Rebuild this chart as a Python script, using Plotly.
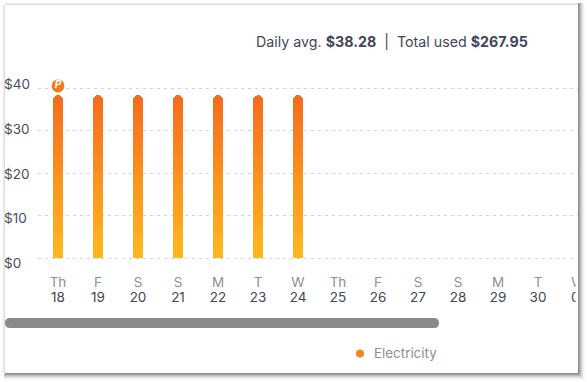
import plotly.graph_objects as go

weekdays = ["Th", "F", "S", "S", "M", "T", "W", "Th", "F", "S", "S", "M", "T", "W"]
dates = ["18", "19", "20", "21", "22", "23", "24", "25", "26", "27", "28", "29", "30", "01"]
values = [38.28, 38.28, 38.28, 38.28, 38.28, 38.28, 38.28, None, None, None, None, None, None, None]
y_ticks = [0, 10, 20, 30, 40]
y_labels = ["$0", "$10", "$20", "$30", "$40"]
series_name = "Electricity"
daily_avg = "$38.28"
total_used = "$267.95"

W, H = 587, 382
L, R, T, B = 38, 587, 70, 268
STEPS = 48
BOT = (255, 184, 30)
TOP = (247, 107, 30)
FONT = "Inter"
positions = list(range(len(values)))


def px(x):
    return (x - L) / (R - L)


def py(y):
    return (B - y) / (B - T)


def rect(x0, x1, y0, y1, color):
    return dict(type="rect", xref="paper", yref="paper", layer="above", line=dict(width=0), fillcolor=color,
                x0=px(x0), x1=px(x1), y0=py(y0), y1=py(y1))


fig = go.Figure()
for i in range(STEPS):
    t = (i + 0.5) / STEPS
    color = "rgb(%d,%d,%d)" % tuple(round(b + (a - b) * t) for a, b in zip(TOP, BOT))
    fig.add_bar(
        x=positions,
        y=[None if v is None else v / STEPS for v in values],
        marker=dict(color=color, line=dict(width=0)),
        showlegend=False,
        hoverinfo="skip",
    )

# hidden traces keep the secondary axes alive
fig.add_scatter(x=[0], y=[0], yaxis="y2", mode="markers", marker=dict(opacity=0), showlegend=False, hoverinfo="skip")
fig.add_scatter(x=[0], y=[0], xaxis="x2", mode="markers", marker=dict(opacity=0), showlegend=False, hoverinfo="skip")
# legend entry (its dot is drawn separately, closer to the text)
fig.add_scatter(x=[None], y=[None], mode="markers", name=series_name,
                marker=dict(color="rgba(0,0,0,0)", size=8))
# peak badge
fig.add_scatter(x=[positions[0]], y=[40.5], mode="markers+text", showlegend=False, hoverinfo="skip",
                marker=dict(color="#f47a1c", size=13, line=dict(width=0)),
                text=["<b><i>P</i></b>"], textposition="middle center",
                textfont=dict(color="white", size=10, family=FONT))

shapes = [
    # scrollbar
    dict(type="path", xref="paper", yref="paper", layer="above", line=dict(width=0), fillcolor="#8a8a8a",
         path=(f"M {px(10)} {py(318)} L {px(434)} {py(318)} Q {px(439)} {py(318)} {px(439)} {py(323)} "
               f"Q {px(439)} {py(328)} {px(434)} {py(328)} L {px(10)} {py(328)} "
               f"Q {px(5)} {py(328)} {px(5)} {py(323)} Q {px(5)} {py(318)} {px(10)} {py(318)} Z")),
    # legend dot
    dict(type="circle", xref="paper", yref="paper", layer="above", line=dict(width=0), fillcolor="#f5861f",
         x0=px(356), x1=px(364), y0=py(349.5), y1=py(357.5)),
    # page outside the card
    rect(578, 587, 0, 382, "white"),
    rect(575.5, 578, 240, 373, "white"),
]
for k, c in enumerate(["#8e8e8e", "#a4a4a4", "#bcbcbc", "#d2d2d2", "#e4e4e4", "#f1f1f1", "#f9f9f9"]):
    shapes.append(rect(578 + k, 579 + k, 3, 373 + k + 1, c))
    shapes.append(rect(5 - min(k, 1), 578 + k + 1, 373 + k, 374 + k, c))
for k, c in enumerate(["#dddddd", "#eeeeee", "#f8f8f8"]):
    shapes.append(rect(4 - k, 5 - k, 5, 373, c))
    shapes.append(rect(5, 578, 4 - k, 5 - k, c))

y_annotations = [
    dict(xref="paper", yref="y2", x=px(1.5), y=v, text=s, xanchor="left", yanchor="middle", showarrow=False,
         font=dict(size=13.5, color="#4a4d5e", family=FONT))
    for v, s in zip(y_ticks, y_labels)
]

x_range = [-0.5, (R - 58) / 40]
fig.update_layout(
    width=W, height=H, autosize=False,
    margin=dict(l=L, r=W - R, t=T, b=H - B),
    paper_bgcolor="white", plot_bgcolor="white",
    barmode="stack", bargap=0.75, barcornerradius=5,
    font=dict(family=FONT, color="#41465a"),
    xaxis=dict(range=x_range, tickvals=positions, ticktext=dates, showgrid=False,
               zeroline=False, showline=False, ticks="", ticklen=0, ticklabelstandoff=19, tickangle=0,
               tickfont=dict(size=13.5, family=FONT, color="#41465a")),
    xaxis2=dict(overlaying="x", side="bottom", range=x_range, tickvals=positions, ticktext=weekdays,
                showgrid=False, zeroline=False, showline=False, ticks="", ticklen=0, ticklabelstandoff=4,
                tickangle=0, tickfont=dict(size=13.5, family=FONT, color="#8c8f98")),
    yaxis=dict(range=[(258 - B) / 4.25, (258 - T) / 4.25], tickvals=y_ticks, showticklabels=False, ticks="",
               showgrid=True, griddash="3px,4px", gridcolor="#d4d4d4", gridwidth=1, zeroline=False, showline=False),
    yaxis2=dict(overlaying="y", side="left", range=[(263 - B) / 4.475, (263 - T) / 4.475], tickvals=y_ticks,
                showticklabels=False, showgrid=False, zeroline=False, showline=False, ticks=""),
    legend=dict(x=px(334), y=py(353), xanchor="left", yanchor="middle", orientation="h",
                font=dict(size=13.4, color="#8c8f98", family=FONT), bgcolor="rgba(0,0,0,0)"),
    shapes=shapes,
    annotations=y_annotations + [dict(
        xref="paper", yref="paper", x=px(530), y=py(42), xanchor="right", yanchor="middle", showarrow=False,
        text=f"Daily avg. <b>{daily_avg}</b>  |  Total used <b>{total_used}</b>",
        font=dict(size=14.25, color="#41465a", family=FONT),
    )],
)

fig.write_html("out.html", config={"displayModeBar": False},
               post_script="document.body.style.margin='0';")
